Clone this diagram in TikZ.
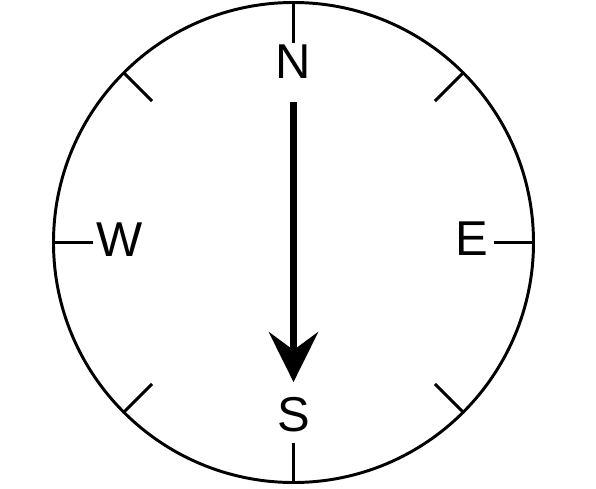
\documentclass[tikz,border=0pt]{standalone}
\usepackage{fontspec}
\setmainfont{Liberation Sans}
\usetikzlibrary{arrows.meta}

\begin{document}
\begin{tikzpicture}[>=Stealth, line width=2.1pt]
  \tikzset{
    dirlabel/.style={inner sep=0pt, font=\fontsize{34.8}{40}\selectfont},
    needle/.style={line width=5pt, -{Stealth[length=1.25cm, width=1.23cm, inset=0.45cm]}}
  }
  \useasboundingbox (-7.3375,-6.1375) rectangle (7.5625,6.0625);
  \draw (0,0) circle[radius=6];
  % ticks every 45 degrees
  \foreach \ang in {0,45,...,315}
    \draw (\ang:5) -- (\ang:6);
  \node[dirlabel] (north) at (0,4.51) {N};
  \node[dirlabel] (south) at (0,-4.30) {S};
  \node[dirlabel] (west) at (-4.34,0.07) {W};
  \node[dirlabel] (east) at (4.46,0.09) {E};
  \coordinate (tail) at (0,3.51);
  \coordinate (tip) at (0,-3.49);
  \draw[needle] (tail) -- (tip);
\end{tikzpicture}
\end{document}
